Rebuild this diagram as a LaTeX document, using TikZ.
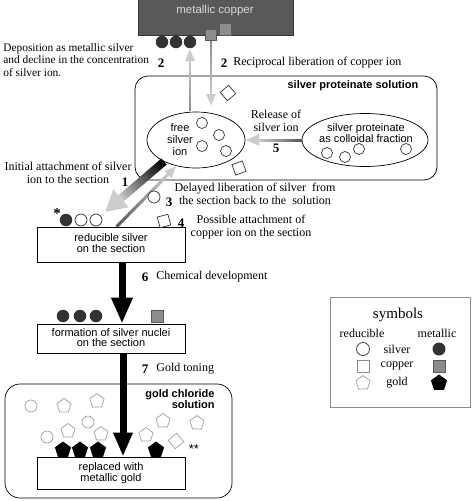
\documentclass[tikz,border=0pt]{standalone}
\usepackage{fontspec}
\setmainfont{Liberation Serif}
\setsansfont{Liberation Sans}
\usetikzlibrary{arrows.meta,calc,shapes.geometric}
\definecolor{darkg}{gray}{0.2}
\definecolor{midg}{gray}{0.55}
\definecolor{lightg}{gray}{0.8}
\definecolor{paleg}{gray}{0.62}
\definecolor{cubox}{gray}{0.35}
% gradient arrow: from, to, start colour, end colour, width, tip length, tip width
\newcommand\gradarrow[7]{%
  \path ($(#2)!#6!(#1)$) coordinate (T);
  \foreach \i [evaluate=\i as \p using {int(100-5*\i)}] in {0,...,19}
    \draw[line width=#5,#3!\p!#4] ($(#1)!\i/20!(T)$) -- ($(#1)!\i/20+0.06!(T)$);
  \draw[line width=#5,#4,-{Triangle[length=#6,width=#7]}] ($(#2)!#6+1pt!(#1)$) -- (#2);}

\begin{document}
\begin{tikzpicture}[x=1pt,y=-1pt,line width=0.7pt,
  txt/.style={font=\fontsize{12}{12.5}\selectfont,align=left,inner sep=0pt},
  num/.style={font=\fontsize{13}{13}\selectfont\bfseries,inner sep=0pt},
  lab/.style={font=\sffamily\fontsize{11}{11}\selectfont,align=center,inner sep=0pt},
  ttl/.style={font=\sffamily\bfseries\fontsize{11}{10.5}\selectfont,align=right,inner sep=0pt},
  boxed/.style={draw,fill=white,minimum width=148,inner sep=0pt},
  ag/.style={circle,draw=darkg,fill=white,minimum size=11,inner sep=0pt},
  pag/.style={circle,draw=paleg,fill=white,minimum size=12,inner sep=0pt},
  mag/.style={circle,fill=darkg,minimum size=12.5,inner sep=0pt},
  cu/.style={rectangle,draw=cubox,fill=midg,minimum size=11,inner sep=0pt},
  rcu/.style={rectangle,draw=darkg,fill=white,minimum size=11,inner sep=0pt},
  au/.style={regular polygon,regular polygon sides=5,draw=paleg,fill=white,minimum size=15,inner sep=0pt},
  mau/.style={regular polygon,regular polygon sides=5,fill=black,minimum size=17,inner sep=0pt}]
\useasboundingbox (0,0) rectangle (472,501);
% copper at the top
\node[draw=darkg,fill=cubox,minimum width=155,minimum height=48,inner sep=0pt] (Cu) at (215.5,11) {};
\node[lab,text=white!85!black,font=\sffamily\fontsize{11.5}{11}\selectfont] (CuT) at (215,11) {metallic copper};
\foreach \x/\n in {162/A1,176/A2,190/A3} \node[mag] (\n) at (\x,42) {};
\node[cu] (C1) at (211,35) {};
\node[cu,minimum size=12] (C2) at (225,29) {};
\node[txt,anchor=west,font=\fontsize{11.4}{12.5}\selectfont] (dep) at (3,60) {Deposition as metallic silver\\and decline in the concentration\\of silver ion.};
\node[num] (n2a) at (161,63) {2};
\node[num] (n2b) at (224,63) {2};
\node[txt,anchor=west] (rec) at (233,63) {Reciprocal liberation of copper ion};
% silver proteinate solution
\node[draw,rounded corners=13,minimum width=302,minimum height=104,inner sep=0pt] (sol) at (286,128) {};
\node[ttl] (solT) at (353,86) {silver proteinate solution};
\node[draw,ellipse,minimum width=98,minimum height=56,inner sep=0pt] (free) at (196,140) {};
\node[lab,font=\sffamily\fontsize{11}{12}\selectfont] (freeT) at (180,140) {free\\silver\\ion};
\foreach \x/\y/\n in {202/123/B1,219/135/B2,202/146/B3,226/151/B4} \node[ag] (\n) at (\x,\y) {};
\node[draw,ellipse,minimum width=126,minimum height=53,inner sep=0pt] (col) at (365,140) {};
\node[lab] (colT) at (366,133.5) {silver proteinate\\as colloidal fraction};
\foreach \x/\y/\n in {327/153/D1,345/157/D2,359/149/D3,406/149/D4} \node[ag] (\n) at (\x,\y) {};
\node[rcu,rotate=40] (Q1) at (228,93) {};
\node[rcu,rotate=20] (Q2) at (239,168) {};
\node[txt,align=center] (relT) at (276,121) {Release of\\silver ion};
\node[num] (n5) at (276,148) {5};
% arrows 2 and 5
\coordinate (U0) at (190,111);
\coordinate (U1) at (190,49);
\coordinate (V1) at (211,106);
\gradarrow{U0}{U1}{gray!110!black}{lightg}{2.8pt}{12pt}{9pt}
\gradarrow{C1.south}{V1}{midg}{lightg}{2.8pt}{12pt}{9pt}
\gradarrow{col.west}{free.east}{cubox}{lightg}{3pt}{14pt}{11pt}
% reducible silver on the section
\node[boxed,minimum height=35] (red) at (111,244.5) {};
\node[lab] (redT) at (111,243.5) {reducible silver\\on the section};
\node[txt,font=\fontsize{15}{15}\selectfont\bfseries] (st1) at (57,214) {*};
\node[mag] (E1) at (66,220) {};
\foreach \x/\n in {81/E2,96/E3} \node[ag,minimum size=12] (\n) at (\x,220) {};
\node[txt,align=center] (iniT) at (68,173) {Initial attachment of silver\\ion to the section};
\node[num] (n1) at (125,182) {1};
\coordinate (P1) at (105,212);
\coordinate (P3) at ($(red.north west)+(80,0)$);
\gradarrow{free.214}{P1}{black}{lightg}{8pt}{21pt}{22pt}
\gradarrow{P3}{free.233}{cubox}{lightg}{3pt}{12pt}{9pt}
\node[ag,minimum size=12] (F1) at (154,197) {};
\node[num] (n3) at (169,202) {3};
\node[txt,align=center] (delT) at (255,194) {Delayed liberation of silver~ from\\the section back to the~ solution};
\node[rcu,rotate=15] (Q3) at (164,221) {};
\node[num] (n4) at (181,223) {4};
\node[txt,align=center] (posT) at (251,227) {Possible attachment of\\copper ion on the section};
% silver nuclei
\node[boxed,minimum height=29] (nuc) at (111,338.5) {};
\node[lab,font=\sffamily\fontsize{11}{10.5}\selectfont] (nucT) at (111,337.5) {formation of silver nuclei\\on the section};
\foreach \x/\n in {63/G1,80/G2,96/G3} \node[mag] (\n) at (\x,316) {};
\node[cu,minimum size=12] (C3) at (157,316) {};
\draw[line width=7pt,-{Triangle[length=26pt,width=20pt]}] (red.south -| 122,0) -- (nuc.north -| 122,0);
\node[num] (n6) at (145,277) {6};
\node[txt,anchor=west] (cheT) at (156,277) {Chemical development};
% gold chloride solution
\node[draw,rounded corners=15,minimum width=227,minimum height=114,inner sep=0pt] (gold) at (118.5,441) {};
\node[ttl] (goldT) at (180,399) {gold chloride\\solution};
\node[boxed,minimum height=32] (rep) at (111,473) {};
\node[lab] (repT) at (111,473) {replaced with\\metallic gold};
\foreach \x/\y/\n in {31/406/H1,88/422/H2,47/437/H3} \node[pag] (\n) at (\x,\y) {};
\foreach \x/\y/\n in {64/406/K1,97/401/K2,68/431/K3,101/434/K4,146/435/K5,163/421/K6,197/423/K7} \node[au] (\n) at (\x,\y) {};
\foreach \x/\n in {63/M1,80/M2,98/M3,156/M4} \node[mau] (\n) at (\x,450) {};
\node[rcu,draw=paleg,rotate=40] (Q4) at (176,441) {};
\node[lab,font=\sffamily\fontsize{13}{13}\selectfont] (st2) at (194,449) {**};
\draw[line width=7pt,-{Triangle[length=24pt,width=18pt]}] (nuc.south -| 123,0) -- (rep.north -| 123,0);
\node[num] (n7) at (145,369) {7};
\node[txt,anchor=west] (tonT) at (156,369) {Gold toning};
% symbols
\node[draw=midg,line width=0.5pt,minimum width=140,minimum height=110,inner sep=0pt] (leg) at (400,352) {};
\node[txt,font=\fontsize{15}{15}\selectfont] (legT) at (398,315) {symbols};
\node[txt] (reL) at (362,333) {reducible};
\node[txt] (meL) at (437,333) {metallic};
\node[ag,minimum size=13] (L1) at (363,349) {};
\node[txt] (agL) at (397,349) {silver};
\node[mag,minimum size=13] (L2) at (439,349) {};
\node[rcu,draw=midg,minimum size=12] (L3) at (363,366) {};
\node[txt] (cuL) at (397,366) {copper};
\node[cu,minimum size=12] (L4) at (439,366) {};
\node[au] (L5) at (363,383) {};
\node[txt] (auL) at (397,383) {gold};
\node[mau] (L6) at (439,383) {};
\end{tikzpicture}
\end{document}
